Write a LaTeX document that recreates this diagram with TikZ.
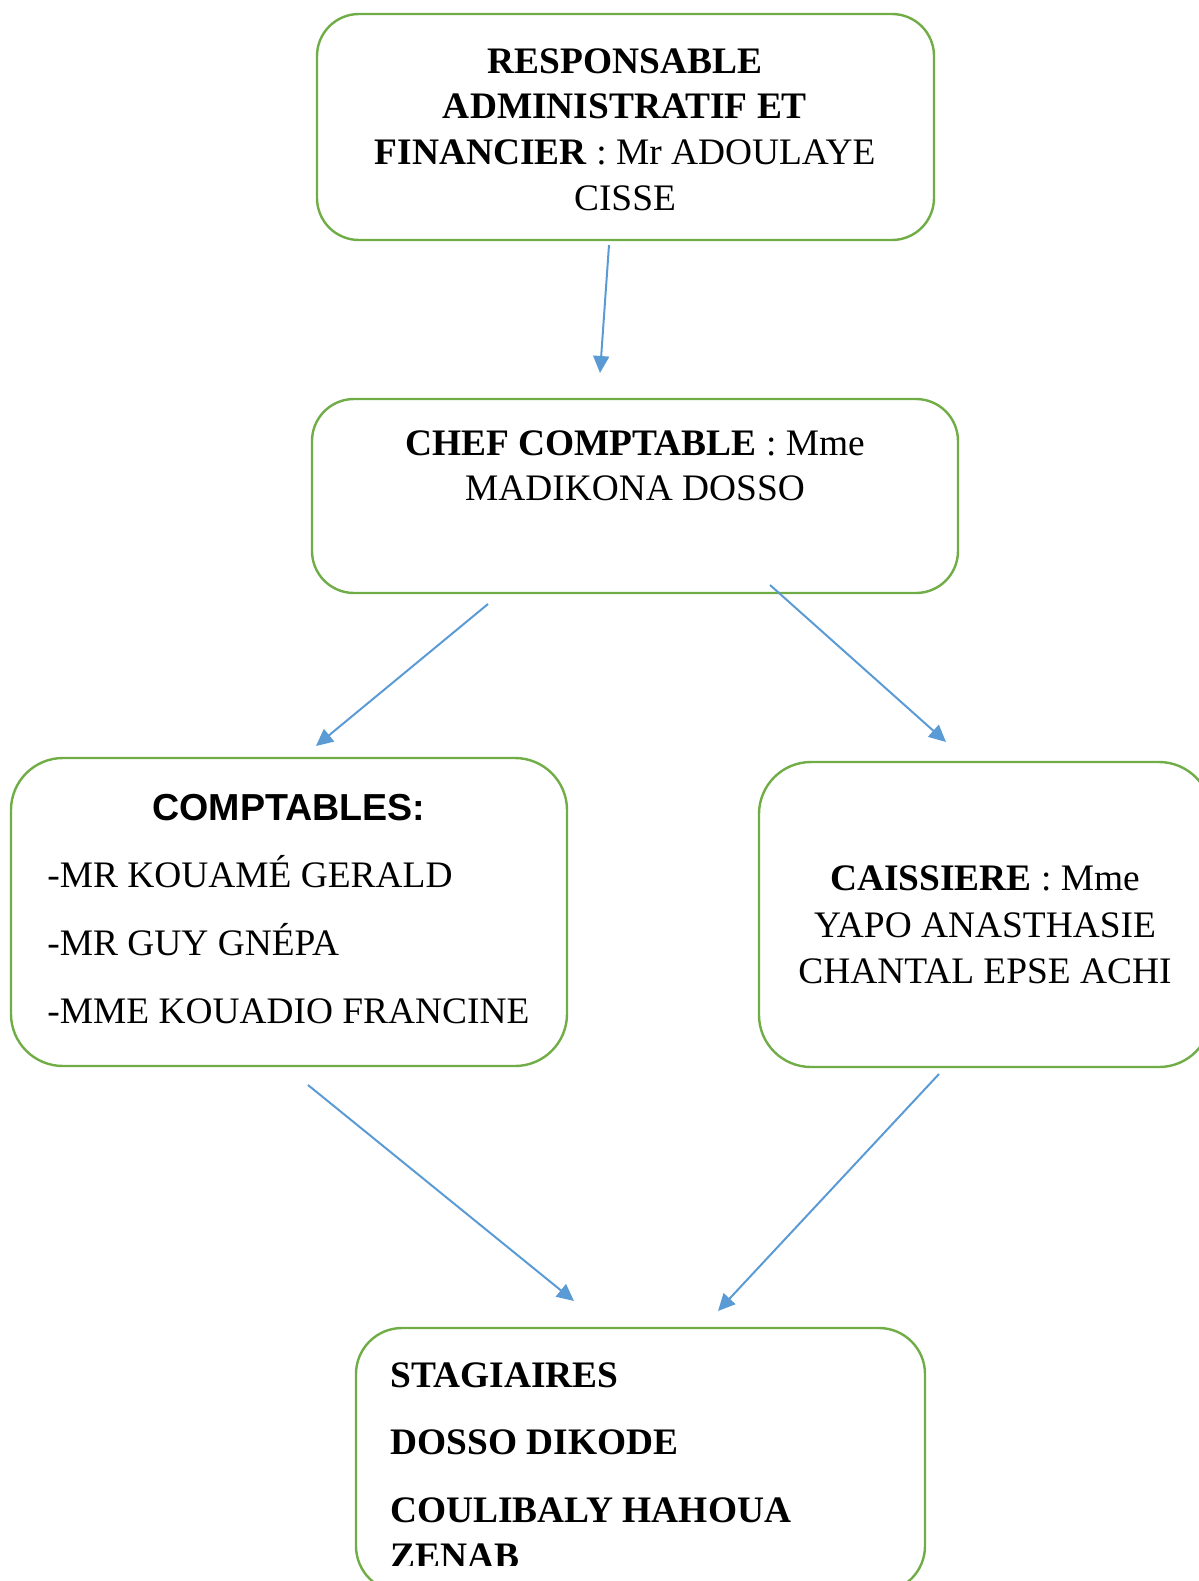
\documentclass[tikz,border=0pt]{standalone}
\usepackage{fontspec}
\setmainfont{Liberation Serif}
\newfontfamily\arialfont{Liberation Sans}
\usepackage{xcolor}
\usepackage{tikz}
\usetikzlibrary{arrows.meta}

\definecolor{boxgreen}{HTML}{70AD47}
\definecolor{linkblue}{HTML}{5B9BD5}

\begin{document}
\begin{tikzpicture}[x=0.5pt, y=-0.5pt,
    orgbox/.style={draw=boxgreen, line width=1.2pt, rounded corners=21pt, inner sep=0pt},
    link/.style={draw=linkblue, line width=1pt, -{Triangle[length=8.5pt, width=8pt]}, fill=linkblue},
    txt/.style={inner sep=0pt, font=\fontsize{18.7}{23}\selectfont}]
    \clip (0,0) rectangle (1199,1581);
    % Draw boxes
    \node[orgbox, minimum width=308.5pt, minimum height=113pt] (raf) at (625.5,127) {};
    \node[orgbox, minimum width=323pt, minimum height=97pt] (chef) at (635,496) {};
    \node[orgbox, minimum width=278pt, minimum height=154pt, rounded corners=26pt] (compta) at (289,912) {};
    \node[orgbox, minimum width=226pt, minimum height=152.5pt, rounded corners=26pt] (caisse) at (985,914.5) {};
    \node[orgbox, minimum width=284.5pt, minimum height=132pt, rounded corners=23pt] (stag) at (640.5,1460) {};
    % Texts
    \node[txt, anchor=base] (raf1) at (625,73) {\textbf{RESPONSABLE}};
    \node[txt, anchor=base] (raf2) at (625,118) {\textbf{ADMINISTRATIF ET}};
    \node[txt, anchor=base] (raf3) at (625,164) {\textbf{FINANCIER} : Mr ADOULAYE};
    \node[txt, anchor=base] (raf4) at (625,210) {CISSE};
    \node[txt, anchor=base] (chef1) at (635,455) {\textbf{CHEF COMPTABLE} : Mme};
    \node[txt, anchor=base] (chef2) at (635,500) {MADIKONA DOSSO};
    \node[txt, anchor=base, font=\arialfont\bfseries\fontsize{18.8}{22}\selectfont] (compta0) at (289,820) {COMPTABLES:};
    \node[txt, anchor=base west] (compta1) at (47,887) {-MR KOUAMÉ GERALD};
    \node[txt, anchor=base west] (compta2) at (47,955) {-MR GUY GNÉPA};
    \node[txt, anchor=base west] (compta3) at (47,1023) {-MME KOUADIO FRANCINE};
    \node[txt, anchor=base] (caisse1) at (985,890) {\textbf{CAISSIERE} : Mme};
    \node[txt, anchor=base] (caisse2) at (985,937) {YAPO ANASTHASIE};
    \node[txt, anchor=base] (caisse3) at (985,983) {CHANTAL EPSE ACHI};
    \node[txt, anchor=base west] (stag1) at (390,1387) {\textbf{STAGIAIRES}};
    \node[txt, anchor=base west] (stag2) at (390,1454) {\textbf{DOSSO DIKODE}};
    \node[txt, anchor=base west] (stag3) at (390,1522) {\textbf{COULIBALY HAHOUA}};
    \begin{scope}
        \clip (0,0) rectangle (1199,1565);
        \node[txt, anchor=base west] (stag4) at (390,1568) {\textbf{ZENAB}};
    \end{scope}
    % Arrow ends
    \coordinate (a1s) at (609,245);
    \coordinate (a1e) at (600,373);
    \coordinate (a2s) at (488,604);
    \coordinate (a2e) at (316,746);
    \coordinate (a3s) at (770,585);
    \coordinate (a3e) at (946,742);
    \coordinate (a4s) at (308,1085);
    \coordinate (a4e) at (574,1301);
    \coordinate (a5s) at (939,1074);
    \coordinate (a5e) at (718,1311);
    % Draw arrows
    \draw[link] (a1s) -- (a1e);
    \draw[link] (a2s) -- (a2e);
    \draw[link] (a3s) -- (a3e);
    \draw[link] (a4s) -- (a4e);
    \draw[link] (a5s) -- (a5e);
\end{tikzpicture}
\end{document}
